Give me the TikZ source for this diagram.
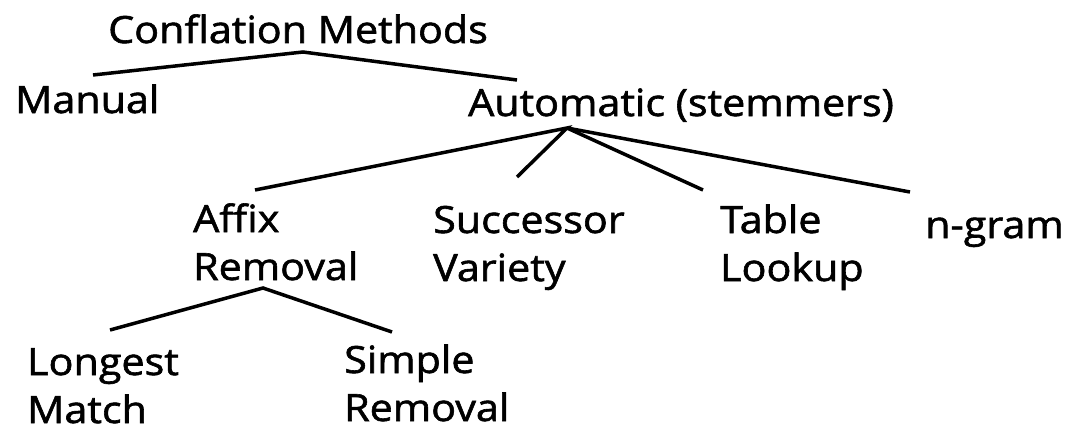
\documentclass[tikz,border=0pt]{standalone}
\usepackage{fontspec}
\setmainfont{Open Sans}[FakeStretch=1.1, FakeBold=1.6]
% two lines, baseline on the first one, no struts below
\newcommand{\twolines}[2]{\vtop{\hbox{#1}\hbox{#2}}}
\begin{document}
\begin{tikzpicture}[x=1pt,y=-1pt,
  label/.style={anchor=base west, inner sep=0pt, font=\fontsize{37.5}{48}\selectfont},
  branch/.style={line width=3.5pt}]
\useasboundingbox (0,0) rectangle (1068,428);
\fill[white] (0,0) rectangle (1068,428);

% labels (left edge, first baseline)
\node[label] (root)   at (108,43)  {Conflation Methods};
\node[label] (manual) at (15,113)  {Manual};
\node[label] (auto)   at (468,116) {Automatic (stemmers)};
\node[label] (affix)  at (193,232) {\twolines{Affix}{Removal}};
\node[label] (succ)   at (433,233) {\twolines{Successor}{Variety}};
\node[label] (table)  at (720,233) {\twolines{Table}{Lookup}};
\node[label] (ngram)  at (925,238) {n-gram};
\node[label] (long)   at (27,375)  {\twolines{Longest}{Match}};
\node[label] (simple) at (344,373) {\twolines{Simple}{Removal}};

% branch points and branch ends
\coordinate (rootapex) at (303,52);
\coordinate (manualend) at (93,75);
\coordinate (autoend) at (517,80);
\coordinate (autoapex) at (567,128);
\coordinate (affixend) at (255,190);
\coordinate (succend) at (517,177);
\coordinate (tableend) at (703,190);
\coordinate (ngramend) at (910,192);
\coordinate (affixapex) at (263,288);
\coordinate (longend) at (110,330);
\coordinate (simpleend) at (392,332);

\draw[branch] (manualend) -- (rootapex) -- (autoend);
\draw[branch] (affixend) -- (autoapex) -- (succend);
\draw[branch] (autoapex) -- (tableend);
\draw[branch] (autoapex) -- (ngramend);
\draw[branch] (longend) -- (affixapex) -- (simpleend);
\end{tikzpicture}
\end{document}
